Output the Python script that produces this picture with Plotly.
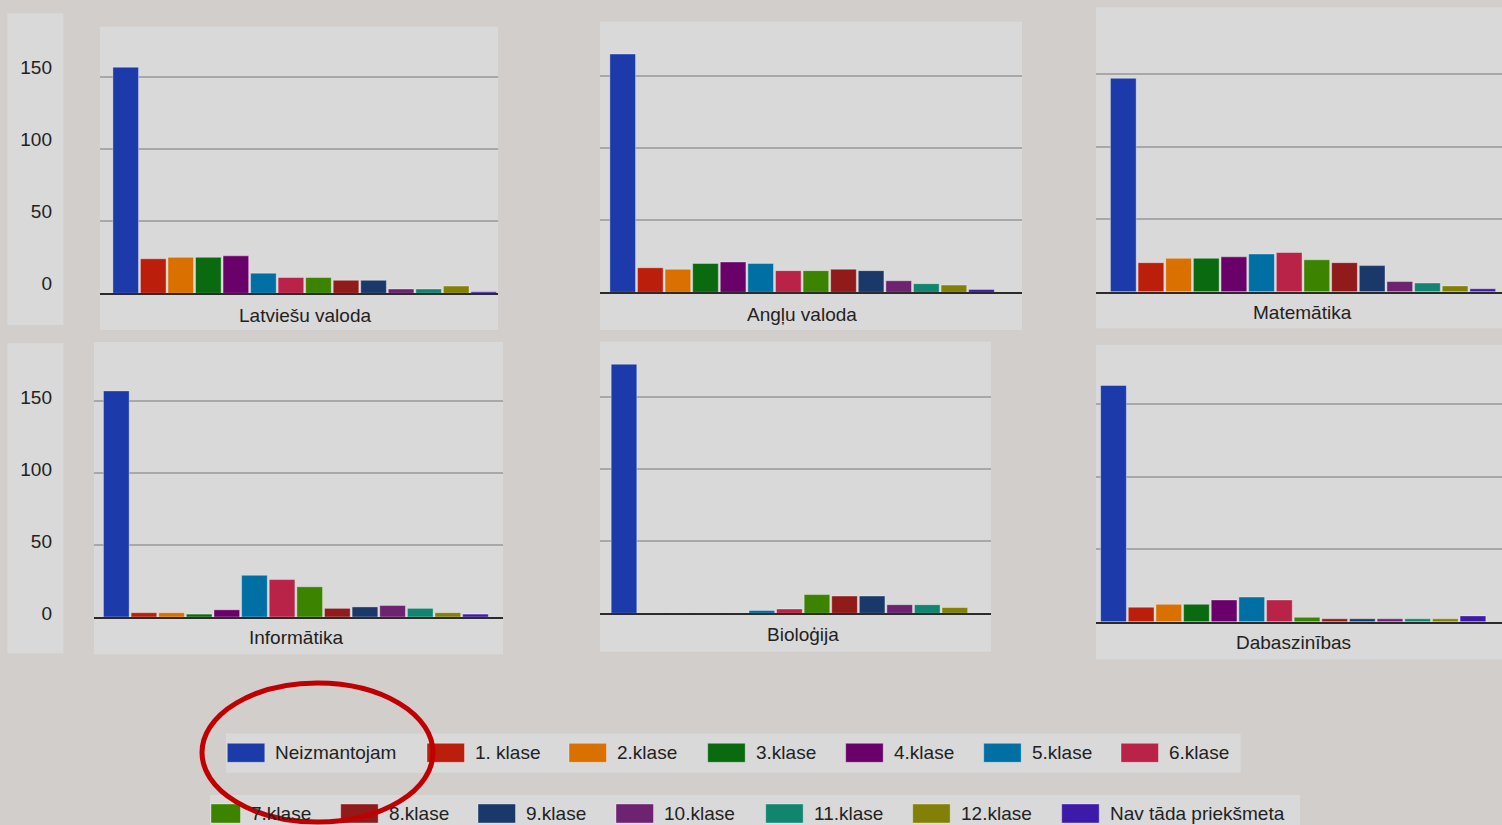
import plotly.graph_objects as go

# ---------------- data ----------------
series = ["Neizmantojam", "1. klase", "2.klase", "3.klase", "4.klase", "5.klase",
          "6.klase", "7.klase", "8.klase", "9.klase", "10.klase", "11.klase",
          "12.klase", "Nav tāda priekšmeta"]
colors = ["#1c3aa9", "#bb1f0b", "#d97000", "#0a6a10", "#6a006a", "#0070a4",
          "#b92347", "#3c8300", "#911a1b", "#1b386b", "#6e2371", "#11856f",
          "#838007", "#3e1aa9"]
subjects = ["Latviešu valoda", "Angļu valoda", "Matemātika",
            "Informātika", "Bioloģija", "Dabaszinības"]
latviesu_valoda = [157, 24, 25, 25, 26, 14, 11, 11, 9, 9, 3, 3, 5, 1]
anglu_valoda = [165, 17, 16, 20, 21, 20, 15, 15, 16, 15, 8, 6, 5, 2]
matematika = [147, 20, 23, 23, 24, 26, 27, 22, 20, 18, 7, 6, 4, 2]
informatika = [157, 3, 3, 2, 5, 29, 26, 21, 6, 7, 8, 6, 3, 2]
biologija = [173, 0, 0, 0, 0, 2, 3, 13, 12, 12, 6, 6, 4, 0]
dabaszinibas = [163, 10, 12, 12, 15, 17, 15, 3, 2, 2, 2, 2, 2, 4]
tick_vals = [0, 50, 100, 150]

values = [latviesu_valoda, anglu_valoda, matematika,
          informatika, biologija, dabaszinibas]

# ---------------- layout (pixels of the 1502x825 picture) ----------------
W, H = 1502, 825
FIG_H = 832          # page height actually rendered before the snapshot is fitted
FONT = "Liberation Sans, Arial, sans-serif"
TXT = "#222222"
PANEL_BG = "#d9d9d9"
PAGE_BG = "#d2cecb"

PANELS = [
    dict(box=(100, 26.7, 498, 330), c0=125.7, slot=27.54, base=293.3, g150=77.3, title=(304.7, 315), shift=-10),
    dict(box=(600, 21.7, 1022, 330), c0=622.7, slot=27.6, base=292.3, g150=75.7, title=(801.7, 314), shift=0),
    dict(box=(1096, 7.3, 1502, 328.3), c0=1123.3, slot=27.65, base=291.7, g150=74.0, title=(1302.5, 312.7), shift=0),
    dict(box=(94, 342, 503, 654.3), c0=116.3, slot=27.63, base=617.0, g150=401.0, title=(296, 637.7), shift=-4),
    dict(box=(600, 341.7, 991, 651.7), c0=624.0, slot=27.57, base=613.3, g150=397.3, title=(802.8, 634), shift=0),
    dict(box=(1096, 345, 1502, 659.3), c0=1113.5, slot=27.65, base=621.7, g150=404.3, title=(1293, 642.7), shift=0),
]
TICK_PANELS = [(7.3, 13.3, 63.3, 325), (7.3, 343, 63.3, 653.3)]
LABEL_RIGHT = 51.7

LEGEND_ROWS = [
    dict(bar=(226, 733.5, 1240.7, 772.7), items=range(0, 7),
         x=[227.3, 427, 569, 707.7, 845.7, 983.7, 1121], y0=743.3, y1=762.3),
    dict(bar=(210, 795, 1300, 835), items=range(7, 14),
         x=[203, 340.7, 478, 616, 765.7, 912.7, 1061.7], y0=804, y1=823),
]
SW = 37.5


def px(x):
    return x / W


def py(y):
    return 1 - y / H


fig = go.Figure()
shapes = []
annotations = []
axes = {}

for (l, t, r, b) in TICK_PANELS:
    shapes.append(dict(type="rect", xref="paper", yref="paper", x0=px(l), x1=px(r),
                       y0=py(b), y1=py(t), fillcolor=PANEL_BG, line=dict(width=0), layer="below"))

for i, (name, vals, p) in enumerate(zip(subjects, values, PANELS)):
    n = "" if i == 0 else str(i + 1)
    l, t, r, b = p["box"]
    ppu = (p["base"] - p["g150"]) / 150.0
    shapes.append(dict(type="rect", xref="paper", yref="paper", x0=px(l), x1=px(r),
                       y0=py(b), y1=py(t), fillcolor=PANEL_BG, line=dict(width=0), layer="below"))
    fig.add_trace(go.Bar(
        x=series, y=vals, name=name, showlegend=False,
        marker=dict(color=colors, line=dict(color="rgba(255,255,255,0.35)", width=1)),
        xaxis="x" + n, yaxis="y" + n,
        hovertemplate="%{x}: %{y}<extra>" + name + "</extra>"))
    axes["xaxis" + n] = dict(
        domain=[px(l), px(r)],
        range=[(l - p["c0"]) / p["slot"], (r - p["c0"]) / p["slot"]],
        type="category", categoryorder="array", categoryarray=series,
        showticklabels=False, ticks="", showgrid=False, zeroline=False,
        showline=True, linecolor="#2b2b2b", linewidth=2,
        anchor="y" + n, fixedrange=True)
    ya = dict(
        domain=[py(p["base"]), py(t)],
        range=[0, (p["base"] - t) / ppu],
        tickmode="array", tickvals=tick_vals, ticktext=[str(v) for v in tick_vals],
        showgrid=True, gridcolor="#a8a8a8", gridwidth=1.5, zeroline=False,
        showline=False, ticks="", anchor="x" + n, fixedrange=True,
        showticklabels=p["shift"] != 0)
    if p["shift"]:
        ya.update(ticklabelshift=int(p["shift"]),
                  ticklabelstandoff=int(round(l - LABEL_RIGHT - 1)),
                  tickfont=dict(family=FONT, size=19, color=TXT))
    axes["yaxis" + n] = ya
    annotations.append(dict(text=name, x=px(p["title"][0]), y=py(p["title"][1]),
                            xref="paper", yref="paper", xanchor="center", yanchor="middle",
                            showarrow=False, font=dict(family=FONT, size=19, color=TXT)))

# custom legend built from the series names and colours
for row in LEGEND_ROWS:
    bl, bt, br, bb = row["bar"]
    shapes.append(dict(type="rect", xref="paper", yref="paper", x0=px(bl), x1=px(br),
                       y0=py(bb), y1=py(bt), fillcolor=PANEL_BG, line=dict(width=0), layer="below"))
    for k, idx in enumerate(row["items"]):
        x0 = max(row["x"][k], bl + 1)
        x1 = row["x"][k] + SW
        shapes.append(dict(type="rect", xref="paper", yref="paper", x0=px(x0), x1=px(x1),
                           y0=py(row["y1"]), y1=py(row["y0"]), fillcolor=colors[idx],
                           line=dict(color="rgba(255,255,255,0.35)", width=1), layer="below"))
        annotations.append(dict(text=series[idx], x=px(x1 + 8.5), y=py((row["y0"] + row["y1"]) / 2),
                                xref="paper", yref="paper", xanchor="left", yanchor="middle",
                                showarrow=False, font=dict(family=FONT, size=19, color=TXT)))

# red highlight ellipse
shapes.append(dict(type="circle", xref="paper", yref="paper", x0=px(202), x1=px(433),
                   y0=py(822), y1=py(683), line=dict(color="#c00000", width=5), layer="above"))

fig.update_layout(
    width=W, height=FIG_H, autosize=False,
    margin=dict(l=0, r=0, t=0, b=0, pad=0),
    paper_bgcolor=PAGE_BG, plot_bgcolor="rgba(0,0,0,0)",
    barmode="overlay", bargap=0.07,
    font=dict(family=FONT, size=19, color=TXT),
    showlegend=False, shapes=shapes, annotations=annotations,
    **axes)

post = (
    "var h=document.documentElement, b=document.body;"
    "h.style.margin='0'; h.style.padding='0'; h.style.background='%s';"
    "b.style.margin='0'; b.style.padding='0'; b.style.background='%s';"
) % (PAGE_BG, PAGE_BG)

fig.write_html("out.html", config={"displayModeBar": False}, post_script=post)
